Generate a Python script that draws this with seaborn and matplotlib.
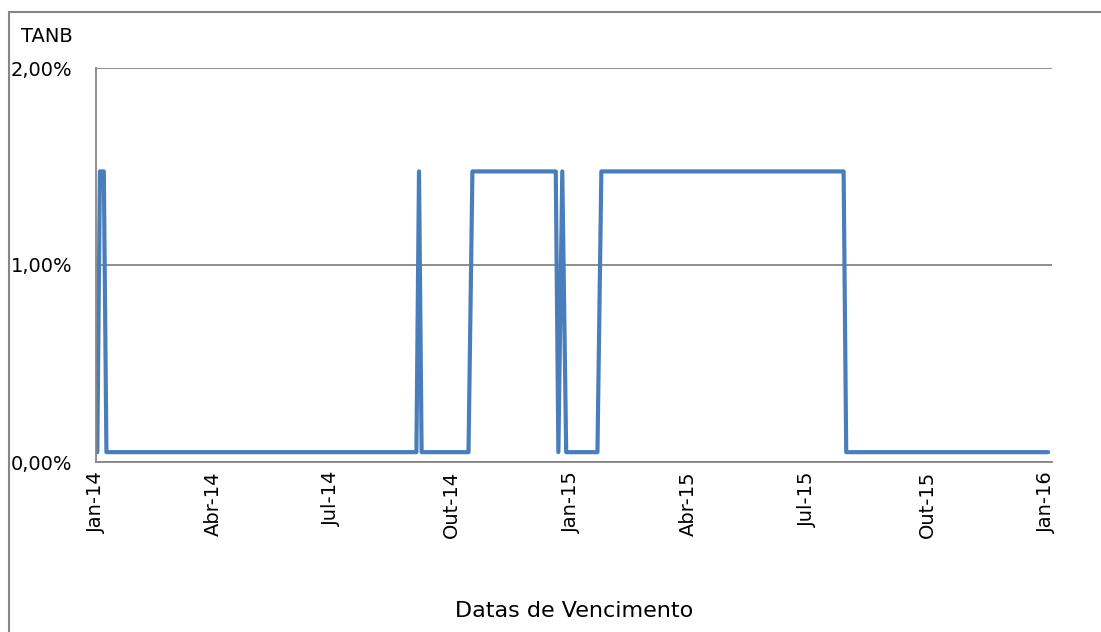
import pandas as pd
import matplotlib
matplotlib.use('Agg')
import matplotlib.pyplot as plt
import matplotlib.dates as mdates
from matplotlib.patches import Rectangle
import seaborn as sns

sns.set_style('white')
plt.rcParams['font.family'] = ['DejaVu Sans']

# datas de vencimento e TANB (%)
datas = ['2014-01-02', '2014-01-04', '2014-01-07', '2014-01-09',
         '2014-09-04', '2014-09-06', '2014-09-08',
         '2014-10-14', '2014-10-17', '2014-12-20', '2014-12-22',
         '2014-12-25', '2014-12-28', '2015-01-21', '2015-01-24',
         '2015-07-29', '2015-07-31', '2016-01-02']
tanb = [0.05, 1.475, 1.475, 0.05,
        0.05, 1.475, 0.05,
        0.05, 1.475, 1.475, 0.05,
        1.475, 0.05, 0.05, 1.475,
        1.475, 0.05, 0.05]

tick_datas = ['2014-01-01', '2014-04-01', '2014-07-01', '2014-10-01', '2015-01-01',
              '2015-04-01', '2015-07-01', '2015-10-01', '2016-01-01']
tick_labels = ['Jan-14', 'Abr-14', 'Jul-14', 'Out-14', 'Jan-15',
               'Abr-15', 'Jul-15', 'Out-15', 'Jan-16']
y_ticks = [0, 1, 2]
y_labels = ['0,00%', '1,00%', '2,00%']

df = pd.DataFrame({'data': pd.to_datetime(datas), 'tanb': tanb})

grey = '#868686'
fig = plt.figure(figsize=(11.01, 6.32), dpi=100)
ax = fig.add_axes([96/1101, 1-462/632, (1052-96)/1101, (462-68)/632])

sns.lineplot(data=df, x='data', y='tanb', ax=ax, color='#4A7EBB', linewidth=3,
             solid_capstyle='round', solid_joinstyle='round')

ax.set_xlim(pd.Timestamp('2014-01-01'), pd.Timestamp('2016-01-05'))
ax.set_ylim(0, 2)

ax.set_xticks(mdates.date2num(pd.to_datetime(tick_datas)))
ax.set_xticklabels(tick_labels, rotation=90)
ax.set_yticks(y_ticks)
ax.set_yticklabels(y_labels)

ax.yaxis.grid(True, color=grey, linewidth=1.3)
ax.set_axisbelow(True)
for s in ['top', 'right']:
    ax.spines[s].set_visible(False)
for s in ['left', 'bottom']:
    ax.spines[s].set_color(grey)
    ax.spines[s].set_linewidth(1.3)

ax.tick_params(axis='both', direction='out', length=6, width=1.3, color=grey,
               labelsize=14, labelcolor='black')
ax.tick_params(axis='y', pad=11)
ax.tick_params(axis='x', pad=0.5)

ax.set_xlabel('Datas de Vencimento', fontsize=16, color='black')
ax.xaxis.set_label_coords(0.5, -(611-462)/394)
ax.xaxis.label.set_va('center')
ax.set_ylabel('TANB', fontsize=14, color='black', rotation=0, ha='right', va='center')
ax.yaxis.set_label_coords(-(96-73)/956, (462-37)/394)

fig.patches.append(Rectangle((9/1101, -0.1), 1.2, 1-12/632+0.1, transform=fig.transFigure,
                             fill=False, edgecolor=grey, linewidth=1.5))

fig.savefig('out.png', dpi=100)
